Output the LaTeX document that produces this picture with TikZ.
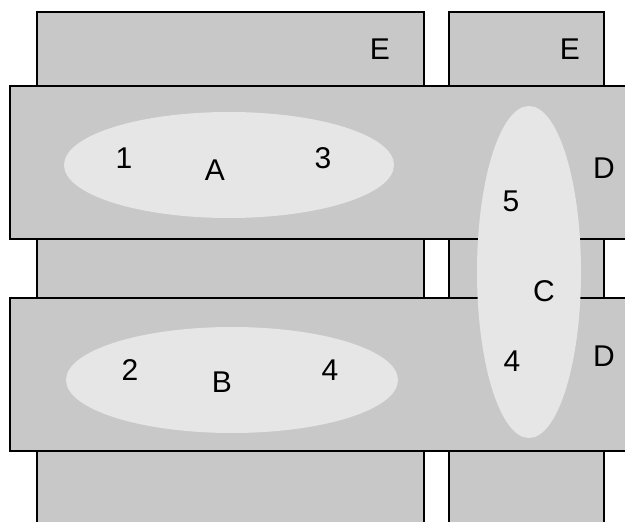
\documentclass[tikz,border=0pt]{standalone}
\usepackage{fontspec}
\setmainfont{Liberation Sans}
\usetikzlibrary{shapes.geometric}
\definecolor{panelgray}{RGB}{200,200,200}
\definecolor{ovalgray}{RGB}{230,230,230}
\begin{document}
\begin{tikzpicture}[x=1pt,y=-1pt,
  panel/.style={draw=black,line width=1.1pt,fill=panelgray,rectangle,inner sep=0pt},
  oval/.style={ellipse,fill=ovalgray,draw=none,inner sep=0pt},
  lbl/.style={font=\fontsize{30}{30}\selectfont,inner sep=0pt,anchor=center}]
\clip (0,0) rectangle (625,522);
\fill[white] (0,0) rectangle (625,522);
% vertical panels E
\node[panel,minimum width=387pt,minimum height=540pt] (E1) at (230.5,282) {};
\node[panel,minimum width=155pt,minimum height=540pt] (E2) at (526.5,282) {};
% horizontal panels D
\node[panel,minimum width=640pt,minimum height=153pt] (D1) at (330,162.5) {};
\node[panel,minimum width=640pt,minimum height=153pt] (D2) at (330,374.5) {};
% ovals
\node[oval,minimum width=330pt,minimum height=106pt] (A) at (229,165) {};
\node[oval,minimum width=332pt,minimum height=106pt] (B) at (232,380) {};
\node[oval,minimum width=104pt,minimum height=332pt] (C) at (529,272) {};
% labels
\node[lbl] (tE1) at (380,49) {E};
\node[lbl] (tE2) at (570,49) {E};
\node[lbl] (t1) at (124,158) {1};
\node[lbl] (tA) at (215,170) {A};
\node[lbl] (t3) at (323,158) {3};
\node[lbl] (tD1) at (604,168) {D};
\node[lbl] (t5) at (511,201) {5};
\node[lbl] (tC) at (544,291) {C};
\node[lbl] (t4r) at (512,361) {4};
\node[lbl] (tD2) at (604,356) {D};
\node[lbl] (t2) at (130,370) {2};
\node[lbl] (tB) at (222,382) {B};
\node[lbl] (t4) at (330,370) {4};
\end{tikzpicture}
\end{document}
